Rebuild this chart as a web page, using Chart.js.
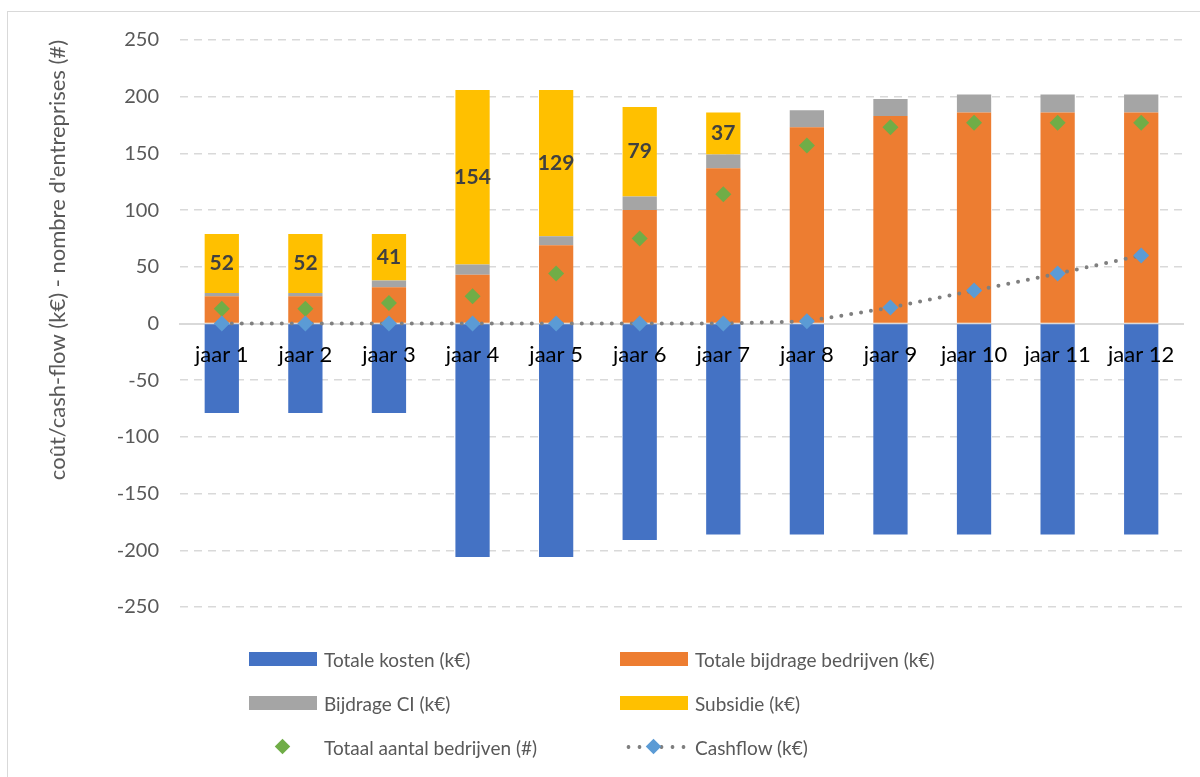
<!DOCTYPE html>
<html>
<head>
<meta charset="utf-8">
<script src="https://cdn.jsdelivr.net/npm/chart.js@4.4.1/dist/chart.umd.min.js"></script>
<style>
    body { margin: 0; background: #fff; }
    #wrap { position: relative; width: 1200px; height: 777px; overflow: hidden; }
    #frame { position: absolute; left: 7px; top: 11px; width: 1300px; height: 900px; border: 1px solid #d9d9d9; }
    #chart { position: absolute; left: 0; top: 0; }
    #legend {
        position: absolute; left: 249px; top: 637px;
        display: grid; grid-template-columns: 371px 371px; grid-auto-rows: 44px;
        font: 19px Lato, sans-serif; color: #595959;
    }
    .item { display: flex; align-items: center; white-space: nowrap; }
    .mark { width: 68px; height: 14px; margin-right: 7px; position: relative; flex: none; }
    .diamond { position: absolute; left: 28px; top: 1px; width: 11px; height: 11px; transform: rotate(45deg); }
</style>
</head>
<body>
<div id="wrap">
    <div id="frame"></div>
    <canvas id="chart" width="1200" height="777"></canvas>
    <div id="legend"></div>
</div>
<script>
const labels = ['jaar 1', 'jaar 2', 'jaar 3', 'jaar 4', 'jaar 5', 'jaar 6', 'jaar 7', 'jaar 8', 'jaar 9', 'jaar 10', 'jaar 11', 'jaar 12'];
const totaleKosten = [-79, -79, -79, -206, -206, -191, -186, -186, -186, -186, -186, -186];
const bijdrageBedrijven = [24, 24, 32, 43, 69, 100, 137, 173, 183, 186, 186, 186];
const bijdrageCI = [3, 3, 6, 9, 8, 12, 12, 15, 15, 16, 16, 16];
const subsidie = [52, 52, 41, 154, 129, 79, 37, 0, 0, 0, 0, 0];
const aantalBedrijven = [13, 13, 18, 24, 44, 75, 114, 157, 173, 177, 177, 177];
const cashflow = [0, 0, 0, 0, 0, 0, 0, 2, 14, 29, 44, 60];
const yMin = -250, yMax = 250, yStep = 50;

const gridColor = '#d9d9d9';
const textColor = '#595959';

// draws the numbers inside the yellow segments
const barLabels = {
    id: 'barLabels',
    afterDatasetsDraw(chart) {
        const ctx = chart.ctx;
        chart.data.datasets.forEach((ds, i) => {
            if (!ds.showValues) return;
            const meta = chart.getDatasetMeta(i);
            meta.data.forEach((bar, j) => {
                const v = ds.data[j];
                if (!v) return;
                ctx.save();
                ctx.font = 'bold 21px Lato, sans-serif';
                ctx.fillStyle = '#404040';
                ctx.textAlign = 'center';
                ctx.textBaseline = 'middle';
                ctx.fillText(v, bar.x, (bar.y + bar.base) / 2);
                ctx.restore();
            });
        });
    }
};

const chart = new Chart(document.getElementById('chart'), {
    data: {
        labels: labels,
        datasets: [
            { type: 'bar', label: 'Totale kosten (k€)', data: totaleKosten, backgroundColor: '#4472c4', stack: 'bars', order: 2 },
            { type: 'bar', label: 'Totale bijdrage bedrijven (k€)', data: bijdrageBedrijven, backgroundColor: '#ed7d31', stack: 'bars', order: 2 },
            { type: 'bar', label: 'Bijdrage CI (k€)', data: bijdrageCI, backgroundColor: '#a5a5a5', stack: 'bars', order: 2 },
            { type: 'bar', label: 'Subsidie (k€)', data: subsidie, backgroundColor: '#ffc000', stack: 'bars', order: 2, showValues: true },
            {
                type: 'line', label: 'Totaal aantal bedrijven (#)', data: aantalBedrijven, stack: 'n', order: 1,
                showLine: false, pointStyle: 'rectRot', pointRadius: 8, pointBorderWidth: 0,
                pointBackgroundColor: '#70ad47', backgroundColor: '#70ad47', borderColor: '#70ad47'
            },
            {
                type: 'line', label: 'Cashflow (k€)', data: cashflow, stack: 'c', order: 0,
                borderColor: '#7f7f7f', borderWidth: 4, borderDash: [0, 10], borderCapStyle: 'round',
                pointStyle: 'rectRot', pointRadius: 8, pointBorderWidth: 0,
                pointBackgroundColor: '#5b9bd5', backgroundColor: '#5b9bd5'
            }
        ]
    },
    options: {
        responsive: false,
        devicePixelRatio: 1,
        animation: false,
        datasets: { bar: { barPercentage: 0.41, categoryPercentage: 1 } },
        layout: { padding: { top: 40, right: 17, bottom: 170, left: 8 } },
        plugins: { legend: { display: false }, tooltip: { enabled: false } },
        scales: {
            x: {
                stacked: true,
                position: { y: 0 },
                afterFit: (s) => { s.height = 0; },
                grid: { color: 'transparent', drawTicks: false },
                border: { display: true, color: gridColor, width: 2, z: 0 },
                ticks: { z: 1, color: '#000', padding: 18, font: { family: 'Lato, sans-serif', size: 22 } }
            },
            y: {
                stacked: true,
                min: yMin,
                max: yMax,
                afterFit: (s) => { s.width = 172; },
                grid: {
                    drawTicks: false,
                    lineWidth: 1.5,
                    color: (c) => c.tick && c.tick.value === 0 ? 'transparent' : gridColor
                },
                border: { display: false, dash: [8, 6] },
                ticks: { stepSize: yStep, color: textColor, padding: 21, font: { family: 'Lato, sans-serif', size: 20 } },
                title: {
                    display: true,
                    text: "coût/cash-flow (k€) - nombre d'entreprises (#)",
                    align: 'end',
                    color: textColor,
                    padding: { top: 37 },
                    font: { family: "'Liberation Sans Narrow', Lato, sans-serif", size: 22 }
                }
            }
        }
    },
    plugins: [barLabels]
});

// legend in two columns, built from the datasets
const legend = document.getElementById('legend');
chart.data.datasets.forEach(ds => {
    const item = document.createElement('div');
    item.className = 'item';
    const mark = document.createElement('span');
    mark.className = 'mark';
    if (ds.type === 'bar') {
        mark.style.background = ds.backgroundColor;
    } else {
        if (ds.showLine !== false) {
            mark.style.background = 'radial-gradient(circle, ' + ds.borderColor + ' 1.6px, transparent 2.2px) 3px 50% / 11px 14px repeat-x';
        }
        const d = document.createElement('span');
        d.className = 'diamond';
        d.style.background = ds.pointBackgroundColor;
        mark.appendChild(d);
    }
    const txt = document.createElement('span');
    txt.textContent = ds.label;
    item.appendChild(mark);
    item.appendChild(txt);
    legend.appendChild(item);
});
</script>
</body>
</html>
